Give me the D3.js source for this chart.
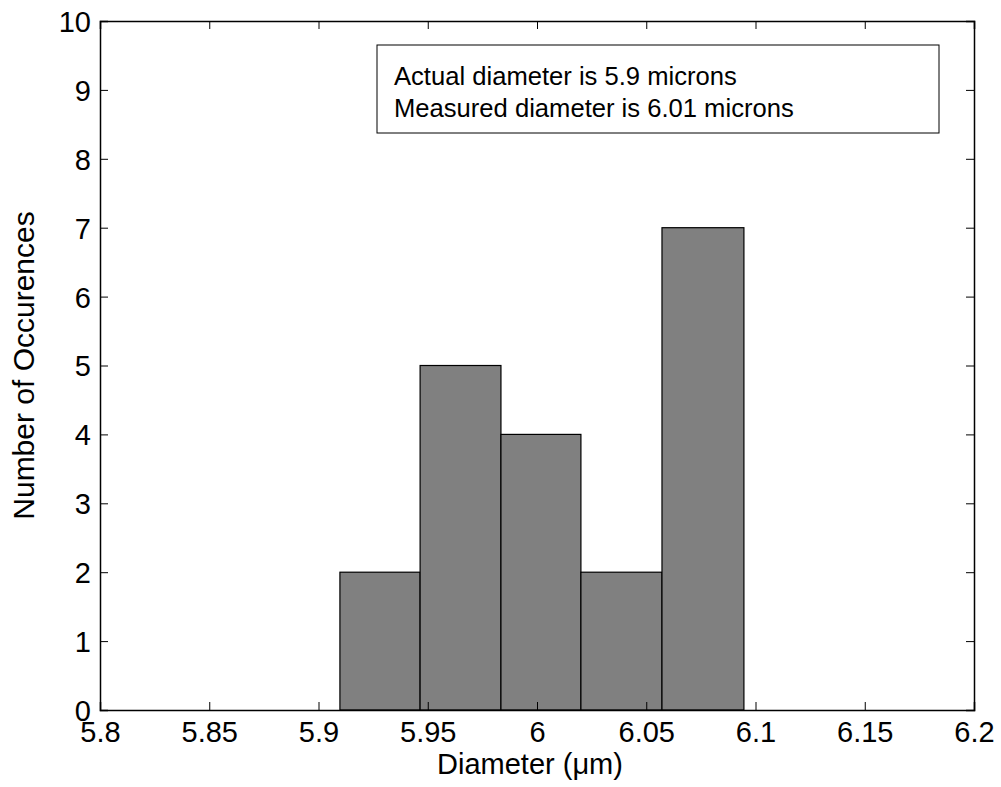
<!DOCTYPE html>
<html>
<head>
<meta charset="utf-8">
<script src="https://cdn.jsdelivr.net/npm/d3@7"></script>
<style>
  body { margin: 0; background: #fff; }
  text { font-family: "Liberation Sans", Arial, sans-serif; }
</style>
</head>
<body>
<script>
// histogram bins (left/right edges in microns) and counts
var binStart = [5.9098, 5.9465, 5.9835, 6.0201, 6.0572];
var binEnd = [5.9465, 5.9835, 6.0201, 6.0572, 6.0947];
var counts = [2, 5, 4, 2, 7];

var xTicks = [5.8, 5.85, 5.9, 5.95, 6, 6.05, 6.1, 6.15, 6.2];
var yTicks = [0, 1, 2, 3, 4, 5, 6, 7, 8, 9, 10];
var legendLines = ["Actual diameter is 5.9 microns", "Measured diameter is 6.01 microns"];

var margin = {top: 21, right: 27, bottom: 77, left: 100};
var width = 1001 - margin.left - margin.right;
var height = 787 - margin.top - margin.bottom;

var svg = d3.select("body")
    .append("svg")
    .attr("width", 1001)
    .attr("height", 787);

var g = svg.append("g")
    .attr("transform", "translate(" + margin.left + "," + margin.top + ")");

var x = d3.scaleLinear()
    .domain([5.8, 6.2])
    .range([0, width]);

var y = d3.scaleLinear()
    .domain([0, 10])
    .range([height, 0]);

// bars
g.selectAll("rect.bar")
    .data(counts)
    .enter()
    .append("rect")
    .attr("class", "bar")
    .attr("x", (d, i) => x(binStart[i]))
    .attr("y", d => y(d))
    .attr("width", (d, i) => x(binEnd[i]) - x(binStart[i]))
    .attr("height", d => height - y(d))
    .attr("fill", "#808080")
    .attr("stroke", "#000")
    .attr("stroke-width", 1.2);

// axes, matlab style: ticks inside on all four sides
var tickLen = 8;

var bottomAxis = d3.axisBottom(x).tickValues(xTicks).tickSize(-tickLen).tickPadding(tickLen + 4)
    .tickFormat(d3.format(""));
var gb = g.append("g")
    .attr("transform", "translate(0," + height + ")")
    .call(bottomAxis);

var topAxis = d3.axisTop(x).tickValues(xTicks).tickSize(-tickLen).tickFormat("");
var gt = g.append("g").call(topAxis);

var leftAxis = d3.axisLeft(y).tickValues(yTicks).tickSize(-tickLen).tickPadding(tickLen + 1);
var gl = g.append("g").call(leftAxis);

var rightAxis = d3.axisRight(y).tickValues(yTicks).tickSize(-tickLen).tickFormat("");
var gr = g.append("g")
    .attr("transform", "translate(" + width + ",0)")
    .call(rightAxis);

[gb, gt, gl, gr].forEach(function(a) {
    a.attr("font-size", null).attr("font-family", null);
    a.select(".domain").attr("stroke", "#000").attr("stroke-width", 1.5);
    a.selectAll(".tick line").attr("stroke", "#000").attr("stroke-width", 1);
    a.selectAll("text")
        .attr("fill", "#000")
        .style("font-size", "29px");
});
gl.selectAll("text").attr("dy", "0.36em");
gb.selectAll("text").attr("dy", "0.68em");

// legend box
var lg = g.append("g");
lg.append("rect")
    .attr("x", 377 - margin.left)
    .attr("y", 45 - margin.top)
    .attr("width", 562)
    .attr("height", 88)
    .attr("fill", "#fff")
    .attr("stroke", "#000")
    .attr("stroke-width", 1);

lg.selectAll("text.leg")
    .data(legendLines)
    .enter()
    .append("text")
    .attr("class", "leg")
    .attr("x", 394 - margin.left)
    .attr("y", (d, i) => 85 - margin.top + i * 32)
    .style("font-size", "25.6px")
    .attr("fill", "#000")
    .text(d => d);

// axis labels
svg.append("text")
    .attr("x", margin.left + width / 2 - 7)
    .attr("y", 774)
    .attr("text-anchor", "middle")
    .style("font-size", "29px")
    .attr("fill", "#000")
    .text("Diameter (\u03bcm)");

svg.append("text")
    .attr("transform", "translate(34," + (margin.top + height / 2) + ") rotate(-90)")
    .attr("text-anchor", "middle")
    .style("font-size", "30px")
    .attr("fill", "#000")
    .text("Number of Occurences");
</script>
</body>
</html>
